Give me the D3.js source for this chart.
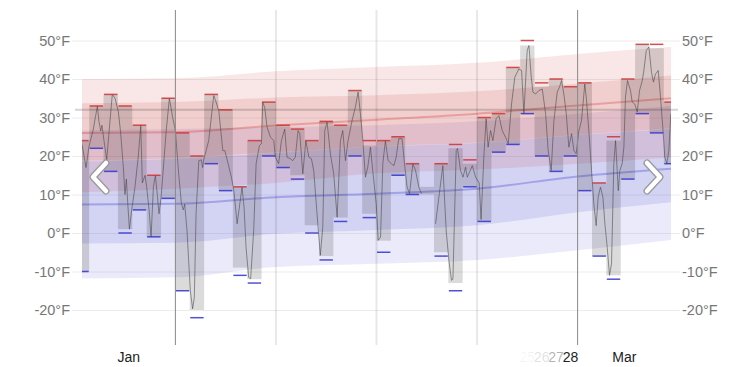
<!DOCTYPE html>
<html>
<head>
<meta charset="utf-8">
<script src="https://cdn.jsdelivr.net/npm/d3@7"></script>
<style>
  body { margin: 0; background: #fff; }
  svg { display: block; font-family: "Liberation Sans", Arial, sans-serif; }
</style>
</head>
<body>
<svg></svg>
<script>
var width = 753,
    height = 367

// days counted from Jan 25 (index 0) to Mar 7 (index 41)
var highs = [24, 33, 36, 33, 28, 15, 35, 26, 20, 36, 32, 12, 24, 34, 28, 27, 24, 29, 28, 37, 24,
             24, 25, 18, null, 18, 23, 19, 30, 31, 43, 50, 39, 40, 38, 39, 13, 25, 40, 49, 49, 34]
var lows  = [-10, 22, 16, 0, 6, -1, 9, -15, -22, 18, 11, -11, -13, 20, 17, 14, 0, -7, 3, 20, 4,
             -5, 15, 10, null, -6, -15, 12, 3, 21, 23, 31, 20, 16, 20, 11, -6, -12, 14, 31, 26, 18]
// extent of the grey daily bars
var barHigh = [24, 33, 36, 33, 28, 15, 35, 26, 20, 36, 32, 12, 24, 34, 28, 27, 24, 29, 28, 37, 22.7,
               24, 25, 18, 12, 18, 22, 18, 30, 31, 43, 48.7, 38, 40, 38, 39, 13, 24, 40, 49, 48, 34]
var barLow  = [-10, 22, 16, 1, 6, -1, 9, -15, -20, 18, 11, -9, -12, 20, 17, 15, 2, -6, 4, 20, 5,
               -2, 15, 10, 10, -5, -13, 12, 3, 21, 23, 31, 20, 16, 20, 11, -6, -11, 14, 31, 26, 18]

// hourly temperature [day offset, °F], null = no data
var hourly = [
  [0.50, 23], [0.78, 17], [0.99, 22.5], [1.29, 27], [1.57, 33], [1.68, 29], [1.80, 26.5], [1.89, 28],
  [2.03, 24], [2.22, 19], [2.40, 27], [2.61, 36], [2.80, 35], [3.03, 31.5], [3.19, 26], [3.38, 17],
  [3.49, 10], [3.59, 14], [3.68, 8], [3.80, 1], [3.96, 6], [4.19, 12], [4.42, 20], [4.59, 28],
  [4.70, 13], [4.89, 15], [5.00, 12], [5.17, 6], [5.31, -1], [5.47, 12], [5.61, 15], [5.74, 10],
  [5.86, 5], [6.00, 9], [6.35, 26], [6.58, 35], [6.81, 30], [7.00, 26.6], [7.23, 15.4], [7.42, 7.6],
  [7.55, 6], [7.65, 7.5], [7.81, 0.6], [8.04, -15], [8.20, -19.7], [8.32, -16.7], [8.44, 5], [8.63, 18.8],
  [8.80, 19], [8.90, 17], [8.97, 19], [9.32, 24], [9.67, 35.7], [9.79, 34.5], [10.02, 31.8], [10.30, 21.4],
  [10.44, 21.4], [10.67, 18], [10.90, 14.5], [11.07, 11], [11.30, 2.4], [11.64, 11.9], [11.78, 6.7],
  [11.92, -3.7], [12.10, -11.5], [12.24, -11.9], [12.45, 0.6], [12.62, 18], [12.85, 22.7], [12.99, 23.2],
  [13.08, 34], [13.22, 32.6], [13.38, 27.5], [13.62, 24.9], [13.85, 24], [13.96, 19.7], [14.19, 18],
  [14.38, 24], [14.61, 27], [14.77, 19.7], [15.00, 19.3], [15.17, 18.8], [15.35, 19.7], [15.54, 26.6],
  [15.66, 25.8], [15.87, 15.4], [15.98, 19.7], [16.08, 24], [16.29, 19.7], [16.47, 19.3], [16.63, 16.2],
  [16.86, 5], [17.09, -5.8], [17.26, 1.5], [17.40, 26.6], [17.56, 28.8], [17.79, 20.6], [18.02, 15.4],
  [18.26, 4.1], [18.49, 24], [18.65, 26.6], [18.84, 18.8], [19.02, 24], [19.30, 29.2], [19.53, 32.7],
  [19.72, 36.6], [19.88, 31], [20.05, 24], [20.23, 14.5], [20.39, 17.1], [20.58, 22.3], [20.74, 16.2],
  [20.98, 7.6], [21.12, -1.9], [21.28, -1.1], [21.44, 18], [21.62, 24], [21.81, 18.8], [22.04, 18],
  [22.21, 17.5], [22.37, 19.7], [22.55, 24.5], [22.78, 24.5], [22.95, 18], [23.13, 11.9], [23.30, 10.2],
  [23.53, 18], [23.72, 16.2], [23.95, 11.9], [24.13, 10.2], [24.60, null], [25.11, 2.4], [25.62, 17.5],
  [25.85, 0.6], [26.04, -7.1], [26.22, -12.3], [26.32, -12], [26.55, 21.4], [26.64, 22], [26.85, 16.2],
  [27.02, 14.5], [27.20, 17.1], [27.32, 14.5], [27.67, 17.5], [27.90, 14.5], [28.15, 13], [28.28, 3.5],
  [28.47, 19.7], [28.63, 29.7], [28.77, 22.3], [28.94, 26.6], [29.10, 24], [29.33, 29.7], [29.52, 30.5],
  [29.75, 26.6], [29.98, 24.9], [30.17, 23.2], [30.40, 33.5], [30.63, 40.5], [30.91, 42.6], [31.10, 42.2],
  [31.26, 31], [31.49, 47.4], [31.61, 48.7], [31.77, 40.5], [31.89, 36.6], [32.07, 36.1], [32.30, 37],
  [32.54, 37.4], [32.77, 31], [32.95, 21.4], [33.16, 16.2], [33.35, 29.2], [33.58, 36.6], [33.74, 37.9],
  [33.88, 39.6], [34.04, 36.1], [34.21, 31], [34.39, 22.3], [34.58, 25.8], [34.74, 21.4], [34.90, 20.6],
  [35.09, 26.6], [35.27, 29.2], [35.50, 38.7], [35.60, 35.3], [35.78, 26.6], [35.97, 16.2], [36.13, 7.6],
  [36.29, 1.9], [36.43, 9.3], [36.59, 11.9], [36.76, 9.3], [36.90, 2.4], [37.06, -3.7], [37.22, -11],
  [37.36, -8], [37.52, 18], [37.64, 24], [37.83, 11], [37.94, 16.2], [38.10, 18], [38.22, 22.3],
  [38.33, 35.3], [38.47, 39.6], [38.68, 37], [38.80, 34], [38.98, 33.5], [39.15, 31.4], [39.31, 37],
  [39.50, 39.6], [39.61, 42.2], [39.78, 47.4], [39.96, 48.3], [40.14, 41.8], [40.28, 39.2], [40.42, 41.3],
  [40.61, 42.2], [40.77, 35.3], [40.93, 27.5], [41.07, 19.7], [41.21, 18], [41.35, 21.4], [41.49, 31]
]

// normal percentile bands, sampled on these days
var bandDays = [0.5, 7, 14, 21, 28, 35, 41.5]
var hiP90 = [40, 40.2, 42, 43.1, 44.2, 46.5, 48.3]
var hiP75 = [33.7, 34, 35.2, 35.8, 36.8, 38.8, 40.9]
var hiP50 = [26, 26.2, 27.9, 29.4, 31, 33.1, 35]
var hiP25 = [18.8, 19.5, 21, 22.5, 23.5, 25.5, 27.2]
var hiP10 = [10.6, 11.5, 13, 15.5, 16.5, 18, 19.7]
var loP90 = [26.6, 27, 27.5, 28, 29, 31, 33]
var loP75 = [18.6, 19.3, 20.8, 22.4, 23.4, 25.4, 27]
var loP50 = [7.4, 7.6, 9.3, 10.2, 11.5, 14.7, 16.7]
var loP25 = [-2.7, -2.5, -0.2, 0.8, 2, 5.4, 8]
var loP10 = [-11.8, -11.5, -8.8, -8, -7, -4.5, -1.8]

var yTicks = [-20, -10, 0, 10, 20, 30, 40, 50]
var monthLabels = [{label: "Jan", from: 0.5, to: 7}, {label: "Mar", from: 35, to: 41.5}]
var dayLabels = ["25", "26", "27", "28"]
var dayLabelDays = [31, 32, 33, 34]
var weekDays = [14, 21, 28]
var freezing = 32

var base = Date.UTC(2021, 0, 25)
function toDate(t) { return new Date(base + t * 864e5) }

var svg = d3.select("svg").attr("width", width).attr("height", height)

var x = d3.scaleUtc().domain([toDate(0.5), toDate(41.5)]).range([82, 671])
var y = d3.scaleLinear().domain([-20, 50]).range([310, 40.5])

svg.append("defs").append("clipPath").attr("id", "plot")
  .append("rect").attr("x", 82).attr("y", 0).attr("width", 589).attr("height", height)

// horizontal grid + left labels
var left = svg.append("g").attr("transform", "translate(72,0)")
  .call(d3.axisLeft(y).tickValues(yTicks).tickSize(-608).tickPadding(2).tickFormat(function(d) { return d + "°F" }))
left.select(".domain").remove()
left.selectAll("line").attr("stroke", "#ececec")
left.selectAll("text").attr("fill", "#777").style("font-size", "14.5px")

var right = svg.append("g").attr("transform", "translate(680,0)")
  .call(d3.axisRight(y).tickValues(yTicks).tickSize(0).tickPadding(2).tickFormat(function(d) { return d + "°F" }))
right.select(".domain").remove()
right.selectAll("text").attr("fill", "#777").style("font-size", "14.5px")

// bands
function band(lo, hi) {
  return d3.area()
    .x(function(d, i) { return x(toDate(bandDays[i])) })
    .y0(function(d, i) { return y(lo[i]) })
    .y1(function(d, i) { return y(hi[i]) })
    .curve(d3.curveMonotoneX)(bandDays)
}
function mid(v) {
  return d3.line()
    .x(function(d, i) { return x(toDate(bandDays[i])) })
    .y(function(d, i) { return y(v[i]) })
    .curve(d3.curveMonotoneX)(bandDays)
}

var bands = svg.append("g")
bands.append("path").attr("d", band(loP10, loP90)).attr("fill", "rgb(51,51,204)").attr("fill-opacity", 0.1)
bands.append("path").attr("d", band(loP25, loP75)).attr("fill", "rgb(51,51,204)").attr("fill-opacity", 0.12)
bands.append("path").attr("d", band(hiP10, hiP90)).attr("fill", "rgb(204,51,51)").attr("fill-opacity", 0.12)
bands.append("path").attr("d", band(hiP25, hiP75)).attr("fill", "rgb(204,51,51)").attr("fill-opacity", 0.13)
bands.append("path").attr("d", mid(loP50)).attr("fill", "none").attr("stroke", "rgb(51,51,204)")
  .attr("stroke-opacity", 0.3).attr("stroke-width", 2)
bands.append("path").attr("d", mid(hiP50)).attr("fill", "none").attr("stroke", "rgb(204,51,51)")
  .attr("stroke-opacity", 0.3).attr("stroke-width", 2)

// freezing line
svg.append("line")
  .attr("x1", 75).attr("x2", 678).attr("y1", y(freezing)).attr("y2", y(freezing))
  .attr("stroke", "#000").attr("stroke-opacity", 0.17).attr("stroke-width", 2)

var days = d3.range(highs.length)
var plot = svg.append("g").attr("clip-path", "url(#plot)")

plot.selectAll("rect.bar")
  .data(days)
  .enter().append("rect").attr("class", "bar")
  .attr("x", function(i) { return x(toDate(i)) })
  .attr("width", function(i) { return x(toDate(i + 1)) - x(toDate(i)) })
  .attr("y", function(i) { return y(barHigh[i]) })
  .attr("height", function(i) { return y(barLow[i]) - y(barHigh[i]) })
  .attr("fill", "#000")
  .attr("fill-opacity", 0.14)

var line = d3.line()
  .defined(function(d) { return d[1] !== null })
  .x(function(d) { return x(toDate(d[0])) })
  .y(function(d) { return y(d[1]) })

plot.append("path")
  .attr("d", line(hourly))
  .attr("fill", "none")
  .attr("stroke", "#444")
  .attr("stroke-opacity", 0.75)
  .attr("stroke-width", 0.75)

function ticks(values, color) {
  plot.selectAll(null)
    .data(days.filter(function(i) { return values[i] !== null }))
    .enter().append("line")
    .attr("x1", function(i) { return x(toDate(i)) + 0.5 })
    .attr("x2", function(i) { return x(toDate(i + 1)) - 0.5 })
    .attr("y1", function(i) { return y(values[i]) })
    .attr("y2", function(i) { return y(values[i]) })
    .attr("stroke", color)
    .attr("stroke-opacity", 0.85)
    .attr("stroke-width", 1.5)
}
ticks(highs, "#c33")
ticks(lows, "#33c")

// week and month lines
svg.selectAll("line.week")
  .data(weekDays)
  .enter().append("line").attr("class", "week")
  .attr("x1", function(d) { return x(toDate(d)) }).attr("x2", function(d) { return x(toDate(d)) })
  .attr("y1", 10).attr("y2", 345)
  .attr("stroke", "#000").attr("stroke-opacity", 0.09).attr("stroke-width", 2)

var months = d3.utcMonth.range(toDate(0.5), toDate(41.5))
svg.selectAll("line.month")
  .data(months)
  .enter().append("line").attr("class", "month")
  .attr("x1", function(d) { return x(d) }).attr("x2", function(d) { return x(d) })
  .attr("y1", 10).attr("y2", 345)
  .attr("stroke", "#888").attr("stroke-width", 1)

// x labels
svg.selectAll("text.month")
  .data(monthLabels)
  .enter().append("text").attr("class", "month")
  .attr("x", function(d) { return (x(toDate(d.from)) + x(toDate(d.to))) / 2 })
  .attr("y", 362)
  .attr("text-anchor", "middle")
  .attr("fill", "#222")
  .style("font-size", "14px")
  .text(function(d) { return d.label })

var fade = [0.06, 0.15, 0.35, 1]
svg.selectAll("text.day")
  .data(dayLabels)
  .enter().append("text").attr("class", "day")
  .attr("x", function(d, i) { return x(toDate(dayLabelDays[i] + 0.5)) })
  .attr("y", 362)
  .attr("text-anchor", "middle")
  .attr("fill", "#222")
  .attr("fill-opacity", function(d, i) { return fade[i] })
  .style("font-size", "14px")
  .text(function(d) { return d })

// arrows
function chevron(pts) {
  var g = svg.append("g")
  g.append("polyline").attr("points", pts).attr("fill", "none")
    .attr("stroke", "#999").attr("stroke-width", 7).attr("stroke-linejoin", "round").attr("stroke-linecap", "round")
  g.append("polyline").attr("points", pts).attr("fill", "none")
    .attr("stroke", "#fff").attr("stroke-width", 4.5).attr("stroke-linejoin", "round").attr("stroke-linecap", "round")
}
chevron("106,163 93,177 106,191")
chevron("647,163 660,177 647,191")
</script>
</body>
</html>
